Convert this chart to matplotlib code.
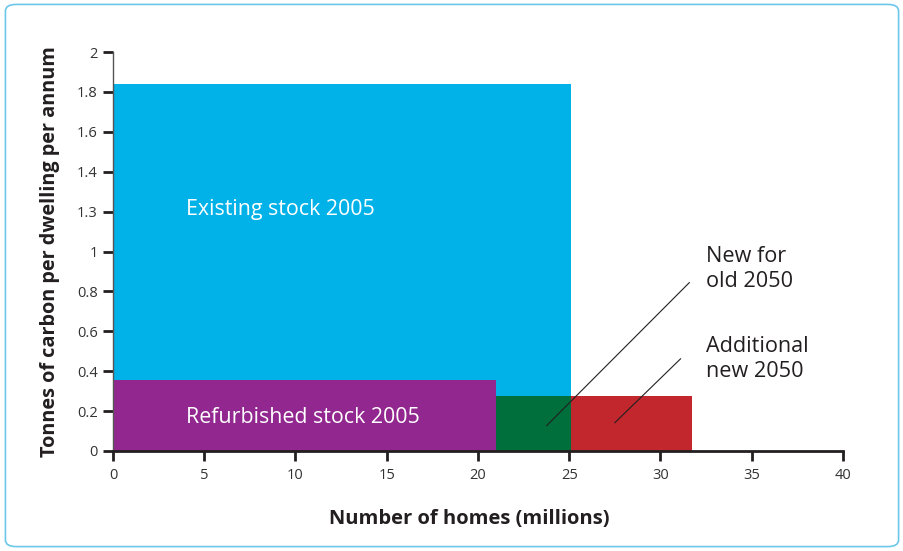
import matplotlib
matplotlib.use("Agg")
import matplotlib.pyplot as plt
from matplotlib.patches import FancyBboxPatch

plt.rcParams['font.family'] = ['Open Sans', 'DejaVu Sans']

# Data
segments = ["Existing stock 2005", "Refurbished stock 2005", "New for old 2050", "Additional new 2050"]
x_start = [0, 0, 21.0, 25.1]
widths = [25.1, 21.0, 4.1, 6.6]
heights = [1.84, 0.355, 0.275, 0.275]
colors = ["#00b2e8", "#92278f", "#006f3b", "#c1272d"]

x_ticks = [0, 5, 10, 15, 20, 25, 30, 35, 40]
y_ticks = [0, 0.2, 0.4, 0.6, 0.8, 1.0, 1.2, 1.4, 1.6, 1.8, 2.0]
y_tick_labels = ["0", "0.2", "0.4", "0.6", "0.8", "1", "1.3", "1.4", "1.6", "1.8", "2"]

txt = "#231f20"
fig = plt.figure(figsize=(9.04, 5.51), dpi=100)
ax = fig.add_axes([0.125, 0.1815, 0.8075, 0.7241])

for xs, w, h, c in zip(x_start, widths, heights, colors):
    ax.bar(xs, h, width=w, align='edge', color=c, linewidth=0, zorder=2)

ax.set_xlim(0, 40)
ax.set_ylim(0, 2)
ax.set_xticks(x_ticks)
ax.set_xticklabels([str(t) for t in x_ticks])
ax.set_yticks(y_ticks)
ax.set_yticklabels(y_tick_labels)
for s in ['top', 'right']:
    ax.spines[s].set_visible(False)
ax.spines['left'].set_color('#555555')
ax.spines['left'].set_linewidth(1.0)
ax.spines['bottom'].set_color(txt)
ax.spines['bottom'].set_linewidth(2.0)
ax.tick_params(axis='both', direction='out', length=7, width=2, color=txt,
               labelsize=10.5, labelcolor='#333333')
ax.tick_params(axis='x', pad=5)
ax.tick_params(axis='y', pad=4)

ax.set_xlabel("Number of homes (millions)", fontsize=14.5, fontweight='bold', color=txt)
ax.xaxis.set_label_coords(0.488, -0.145)
ax.set_ylabel("Tonnes of carbon per dwelling per annum", fontsize=14.3, fontweight='bold', color=txt, labelpad=12)

ax.text(4.0, 1.213, segments[0], color='white', fontsize=15.4, va='center', ha='left', zorder=3)
ax.text(4.0, 0.17, segments[1], color='white', fontsize=15.4, va='center', ha='left', zorder=3)

ax.text(32.5, 0.912, "New for\nold 2050", color=txt, fontsize=15.6, va='center', ha='left', linespacing=1.3)
ax.text(32.5, 0.461, "Additional\nnew 2050", color=txt, fontsize=15.6, va='center', ha='left', linespacing=1.3)
ax.plot([23.76, 31.58], [0.127, 0.844], color=txt, linewidth=0.8, zorder=4)
ax.plot([27.5, 31.1], [0.142, 0.462], color=txt, linewidth=0.8, zorder=4)

border = FancyBboxPatch((0.006, 0.008), 0.988, 0.984, boxstyle="round,pad=0,rounding_size=0.012",
                        transform=fig.transFigure, fill=False, edgecolor='#6cc7ea', linewidth=1.2)
fig.patches.append(border)

fig.savefig("out.png", dpi=100)
